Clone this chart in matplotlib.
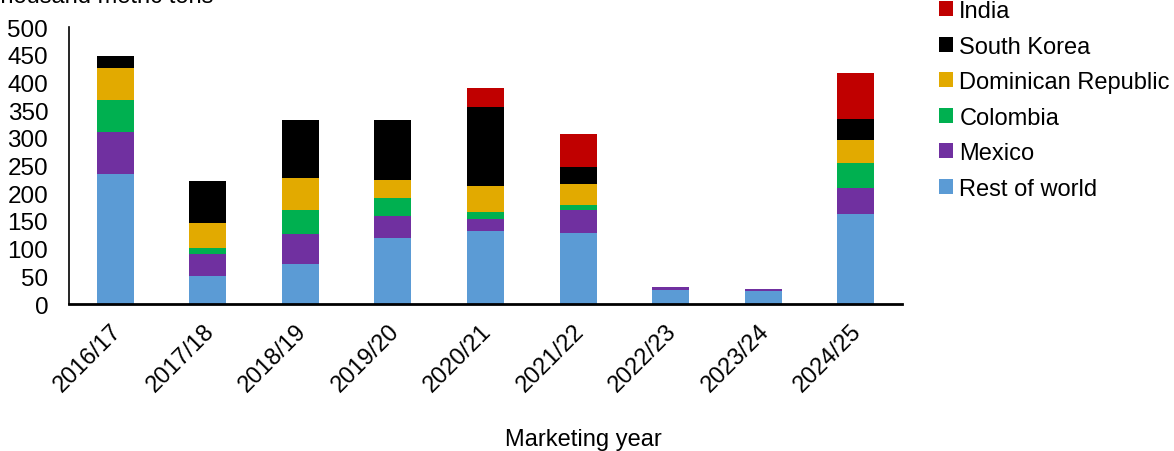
import matplotlib
matplotlib.use('Agg')
import matplotlib.pyplot as plt
import matplotlib.transforms as mtransforms
import numpy as np

plt.rcParams['font.family'] = ['Liberation Sans', 'DejaVu Sans']

years = ['2016/17', '2017/18', '2018/19', '2019/20', '2020/21',
         '2021/22', '2022/23', '2023/24', '2024/25']

# thousand metric tons
rest_of_world = [235, 50, 73, 120, 132, 129, 26, 24, 162]
mexico = [75, 40, 53, 39, 21, 41, 4, 3, 48]
colombia = [58, 12, 44, 32, 14, 8, 0, 0, 45]
dominican = [58, 45, 57, 33, 46, 38, 0, 0, 42]
south_korea = [21, 76, 105, 108, 143, 31, 0, 0, 37]
india = [0, 0, 0, 0, 34, 60, 0, 0, 83]

series = [
    ('Rest of world', rest_of_world, '#5B9BD5'),
    ('Mexico', mexico, '#7030A0'),
    ('Colombia', colombia, '#00B050'),
    ('Dominican Republic', dominican, '#E2AA00'),
    ('South Korea', south_korea, '#000000'),
    ('India', india, '#C00000'),
]

fig = plt.figure(figsize=(11.74, 4.52), dpi=100)
ax = fig.add_axes([0.0588, 0.325, 0.7095, 0.613])

x = np.arange(len(years))
bottom = np.zeros(len(years))
handles = []
for name, vals, col in series:
    vals = np.array(vals, dtype=float)
    h = ax.bar(x, vals, 0.4, bottom=bottom, color=col, label=name, edgecolor='none')
    handles.append(h)
    bottom += vals

ax.set_xlim(-0.5, len(years) - 0.5)
ax.set_ylim(0, 500)
ax.set_yticks(np.arange(0, 501, 50))
ax.tick_params(axis='y', length=0, pad=15, labelsize=17.5)
ax.tick_params(axis='x', length=0, pad=11)
ax.set_xticks(x)
ax.set_xticklabels(years, rotation=45, ha='right', va='top',
                   rotation_mode='anchor', fontsize=17)
shift = mtransforms.ScaledTranslation(-0.05, 0, fig.dpi_scale_trans)
for lab in ax.get_xticklabels():
    lab.set_transform(lab.get_transform() + shift)
for s in ['top', 'right']:
    ax.spines[s].set_visible(False)
ax.spines['bottom'].set_linewidth(2)
ax.spines['left'].set_linewidth(1.2)

fig.text(583 / 1174, 1 - 440 / 452, 'Marketing year', ha='center', va='center', fontsize=17)
fig.text(-0.012, 0.993, 'Thousand metric tons', ha='left', va='baseline', fontsize=17)

fig.legend(handles[::-1], [s[0] for s in series][::-1],
           loc='upper left', bbox_to_anchor=(0.792, 1.018),
           frameon=False, fontsize=17, handlelength=0.6, handleheight=0.6,
           handletextpad=0.25, labelspacing=0.57, borderaxespad=0)

fig.savefig('out.png', dpi=100)
